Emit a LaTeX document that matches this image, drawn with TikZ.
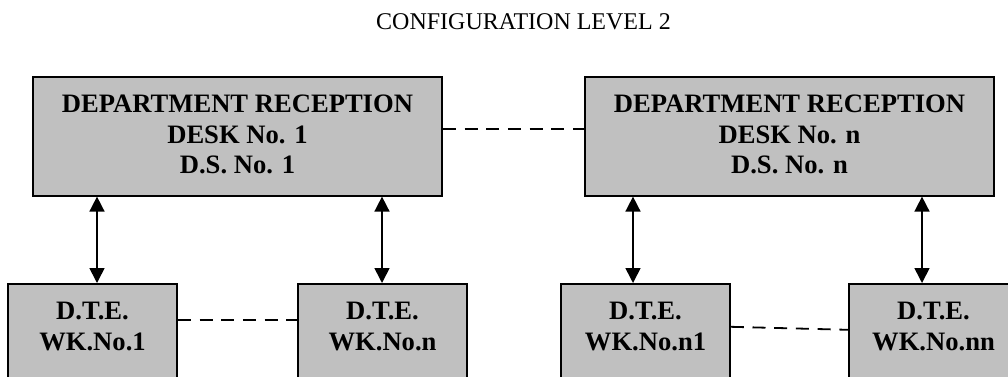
\documentclass[tikz,border=0pt]{standalone}
\usepackage{fontspec}
\setmainfont{Liberation Serif}
\usetikzlibrary{arrows.meta}
\definecolor{boxgray}{HTML}{C0C0C0}
\tikzset{
  box/.style={draw=black, line width=1.6pt, fill=boxgray, inner sep=0pt, anchor=north},
  topbox/.style={box, minimum width=409pt, minimum height=119pt},
  wkbox/.style={box, minimum width=169pt, minimum height=119pt},
  boxtext/.style={inner sep=0pt, anchor=north, align=center, font=\fontsize{26.6}{30.5}\selectfont\bfseries},
  biarrow/.style={line width=1.6pt, {Triangle[width=15pt,length=15pt]}-{Triangle[width=15pt,length=15pt]}},
  dashline/.style={line width=1.8pt, dash pattern=on 13pt off 8.7pt},
}
\begin{document}
\begin{tikzpicture}[x=1pt,y=1pt]
\useasboundingbox (0,0) rectangle (1008,-376);
\clip (0,0) rectangle (1008,-376);
\node[anchor=base, inner sep=0pt, font=\fontsize{24}{28}\selectfont] (title) at (523.5,-29.5) {CONFIGURATION LEVEL 2};

\node[topbox] (d1) at (237.5,-76) {};
\node[topbox] (dn) at (789.5,-76) {};
\node[boxtext] (td1) at ([yshift=-19pt]d1.north) {DEPARTMENT RECEPTION\\DESK No. 1\\D.S. No. 1};
\node[boxtext] (tdn) at ([yshift=-19pt]dn.north) {DEPARTMENT RECEPTION\\DESK No. n\\D.S. No. n};

\node[wkbox] (w1) at (92.5,-283) {};
\node[wkbox] (w2) at (382.5,-283) {};
\node[wkbox] (w3) at (645.5,-283) {};
\node[wkbox] (w4) at (933.5,-283) {};
\node[boxtext] (tw1) at ([yshift=-19pt]w1.north) {D.T.E.\\WK.No.1};
\node[boxtext] (tw2) at ([yshift=-19pt]w2.north) {D.T.E.\\WK.No.n};
\node[boxtext] (tw3) at ([yshift=-19pt]w3.north) {D.T.E.\\WK.No.n1};
\node[boxtext] (tw4) at ([yshift=-19pt]w4.north) {D.T.E.\\WK.No.nn};

\draw[biarrow] ([xshift=4.5pt]w1.north) -- ([xshift=4.5pt]w1.north |- d1.south);
\draw[biarrow] ([xshift=-0.5pt]w2.north) -- ([xshift=-0.5pt]w2.north |- d1.south);
\draw[biarrow] ([xshift=-12.5pt]w3.north) -- ([xshift=-12.5pt]w3.north |- dn.south);
\draw[biarrow] ([xshift=-11.5pt]w4.north) -- ([xshift=-11.5pt]w4.north |- dn.south);

\draw[dashline] ([yshift=7.5pt]d1.east) -- ([yshift=7.5pt]dn.west);
\draw[dashline] ([yshift=23.5pt]w1.east) -- ([yshift=23.5pt]w2.west);
\draw[dashline] ([yshift=16.5pt]w3.east) -- ([yshift=13.5pt]w4.west);
\end{tikzpicture}
\end{document}
